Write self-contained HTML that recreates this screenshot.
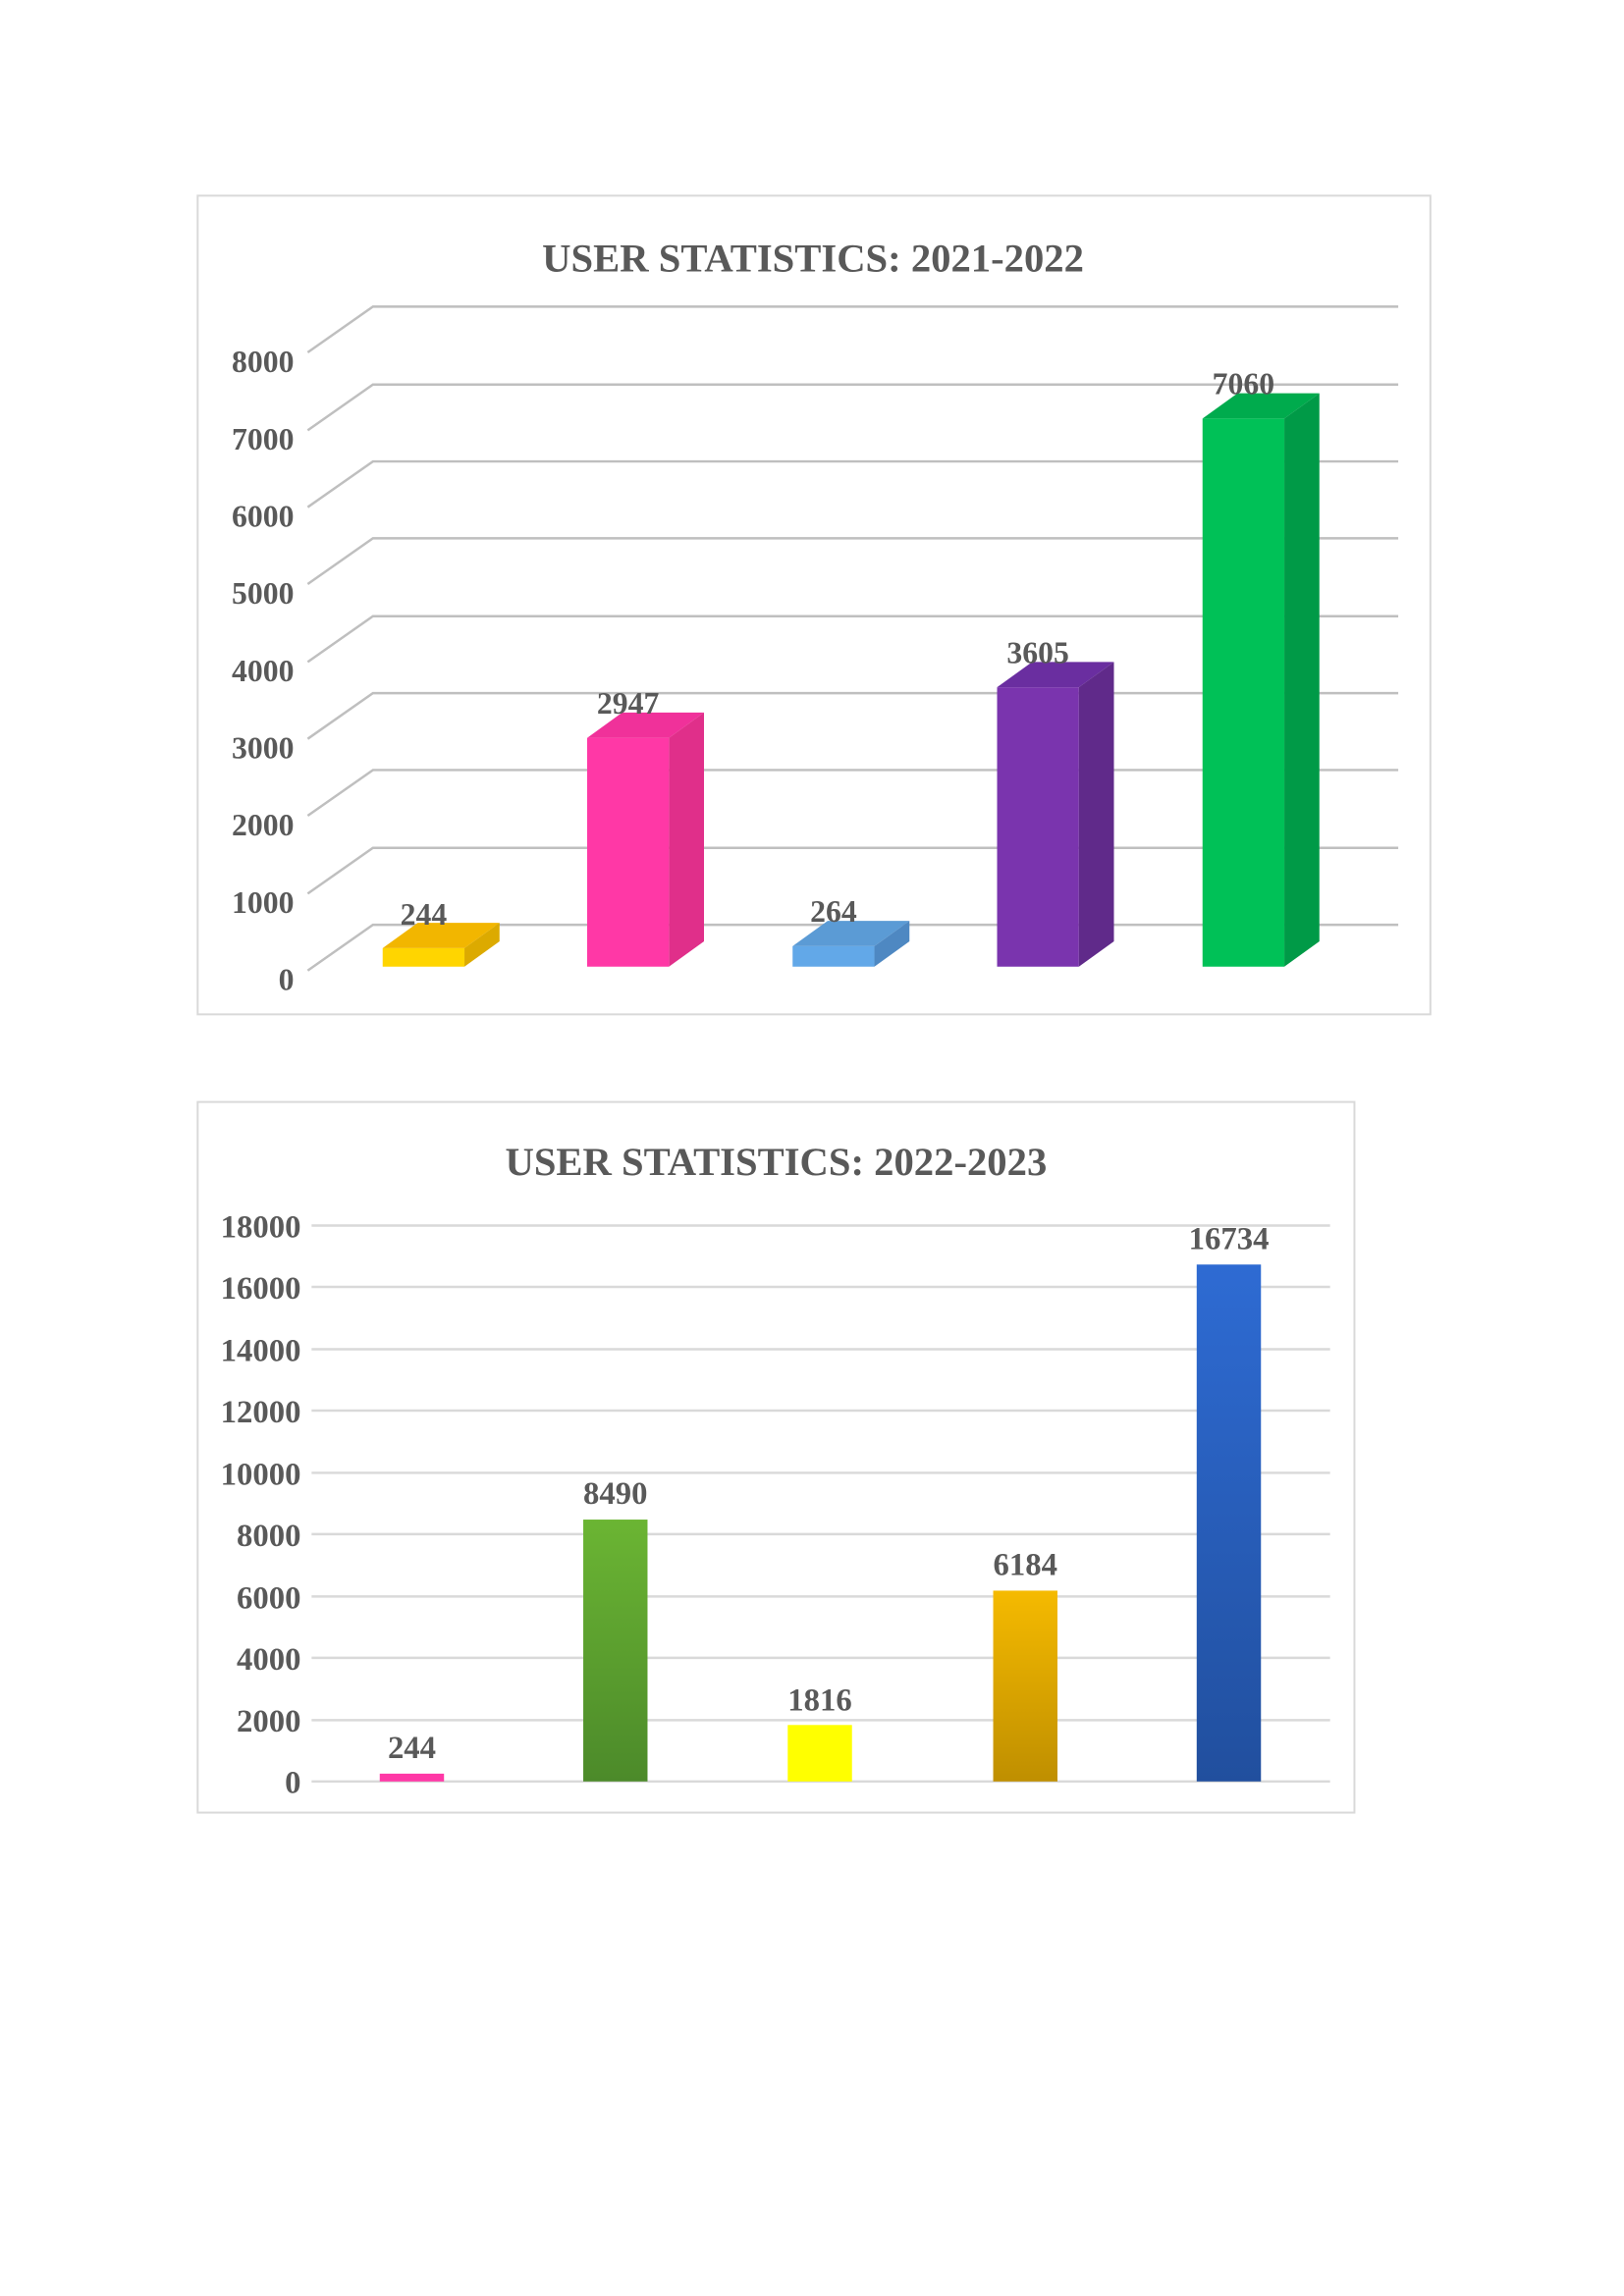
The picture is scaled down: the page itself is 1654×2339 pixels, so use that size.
<!DOCTYPE html>
<html><head><meta charset="utf-8"><style>html,body{margin:0;padding:0;background:#fff}svg{display:block}</style></head>
<body>
<svg width="1654" height="2339" viewBox="0 0 1654 2339" xmlns="http://www.w3.org/2000/svg" font-family="Liberation Serif, serif" font-weight="bold" fill="#595959">
<defs>
<linearGradient id="gG" x1="0" y1="0" x2="0" y2="1"><stop offset="0" stop-color="#6bb533"/><stop offset="1" stop-color="#4c8a2a"/></linearGradient>
<linearGradient id="gO" x1="0" y1="0" x2="0" y2="1"><stop offset="0" stop-color="#f5ba00"/><stop offset="1" stop-color="#bf8f00"/></linearGradient>
<linearGradient id="gB" x1="0" y1="0" x2="0" y2="1"><stop offset="0" stop-color="#2e6bd3"/><stop offset="1" stop-color="#214f9e"/></linearGradient>
</defs>
<g transform="scale(0.9917)">
<!-- Chart 1 -->
<rect x="203" y="201" width="1266" height="841" fill="#fff" stroke="#d9d9d9" stroke-width="2"/>
<text x="835" y="279" font-size="41" text-anchor="middle">USER STATISTICS: 2021-2022</text>
<g stroke="#bfbfbf" stroke-width="2.5" fill="none">
<path d="M316 997 L383 950 H1436"/>
<path d="M316 918 L383 871 H1436"/>
<path d="M316 838 L383 791 H1436"/>
<path d="M316 759 L383 712 H1436"/>
<path d="M316 680 L383 633 H1436"/>
<path d="M316 600 L383 553 H1436"/>
<path d="M316 521 L383 474 H1436"/>
<path d="M316 442 L383 395 H1436"/>
<path d="M316 362 L383 315 H1436"/>
</g>
<g font-size="32" text-anchor="end">
<text x="302" y="1017">0</text><text x="302" y="938">1000</text><text x="302" y="858">2000</text><text x="302" y="779">3000</text><text x="302" y="700">4000</text><text x="302" y="620">5000</text><text x="302" y="541">6000</text><text x="302" y="462">7000</text><text x="302" y="382">8000</text>
</g>
<g>
<rect x="393" y="974" width="84" height="19" fill="#ffd500"/>
<polygon points="393,974 429,948 513,948 477,974" fill="#f2b600"/>
<polygon points="477,974 513,948 513,967 477,993" fill="#dcaa00"/>
<text x="435" y="950" font-size="32" text-anchor="middle">244</text>

<rect x="603" y="758" width="84" height="235" fill="#ff38a6"/>
<polygon points="603,758 639,732 723,732 687,758" fill="#f0319a"/>
<polygon points="687,758 723,732 723,967 687,993" fill="#e02f8a"/>
<text x="645" y="733" font-size="32" text-anchor="middle">2947</text>

<rect x="814" y="972" width="84" height="21" fill="#62a8e8"/>
<polygon points="814,972 850,946 934,946 898,972" fill="#5b9bd5"/>
<polygon points="898,972 934,946 934,967 898,993" fill="#4e88c2"/>
<text x="856" y="947" font-size="32" text-anchor="middle">264</text>

<rect x="1024" y="706" width="84" height="287" fill="#7a34ae"/>
<polygon points="1024,706 1060,680 1144,680 1108,706" fill="#6a2ea0"/>
<polygon points="1108,706 1144,680 1144,967 1108,993" fill="#602a8a"/>
<text x="1066" y="681" font-size="32" text-anchor="middle">3605</text>

<rect x="1235" y="430" width="84" height="563" fill="#00c157"/>
<polygon points="1235,430 1271,404 1355,404 1319,430" fill="#00ab4d"/>
<polygon points="1319,430 1355,404 1355,967 1319,993" fill="#009a47"/>
<text x="1277" y="405" font-size="32" text-anchor="middle">7060</text>
</g>

<!-- Chart 2 -->
<rect x="203" y="1132" width="1188" height="730" fill="#fff" stroke="#d9d9d9" stroke-width="2"/>
<text x="797" y="1207" font-size="41" text-anchor="middle">USER STATISTICS: 2022-2023</text>
<g stroke="#d9d9d9" stroke-width="2.5">
<line x1="320" x2="1366" y1="1830" y2="1830"/>
<line x1="320" x2="1366" y1="1767" y2="1767"/>
<line x1="320" x2="1366" y1="1703" y2="1703"/>
<line x1="320" x2="1366" y1="1640" y2="1640"/>
<line x1="320" x2="1366" y1="1576" y2="1576"/>
<line x1="320" x2="1366" y1="1513" y2="1513"/>
<line x1="320" x2="1366" y1="1449" y2="1449"/>
<line x1="320" x2="1366" y1="1386" y2="1386"/>
<line x1="320" x2="1366" y1="1322" y2="1322"/>
<line x1="320" x2="1366" y1="1259" y2="1259"/>
</g>
<g font-size="33" text-anchor="end">
<text x="309" y="1842">0</text><text x="309" y="1779">2000</text><text x="309" y="1715">4000</text><text x="309" y="1652">6000</text><text x="309" y="1588">8000</text><text x="309" y="1525">10000</text><text x="309" y="1461">12000</text><text x="309" y="1398">14000</text><text x="309" y="1334">16000</text><text x="309" y="1271">18000</text>
</g>
<rect x="390" y="1822" width="66" height="8" fill="#ff38a6"/>
<rect x="599" y="1561" width="66" height="269" fill="url(#gG)"/>
<rect x="809" y="1772" width="66" height="58" fill="#ffff00"/>
<rect x="1020" y="1634" width="66" height="196" fill="url(#gO)"/>
<rect x="1229" y="1299" width="66" height="531" fill="url(#gB)"/>
<g font-size="33" text-anchor="middle">
<text x="423" y="1806">244</text>
<text x="632" y="1545">8490</text>
<text x="842" y="1757">1816</text>
<text x="1053" y="1618">6184</text>
<text x="1262" y="1283">16734</text>
</g>
</g>
</svg>
</body></html>
